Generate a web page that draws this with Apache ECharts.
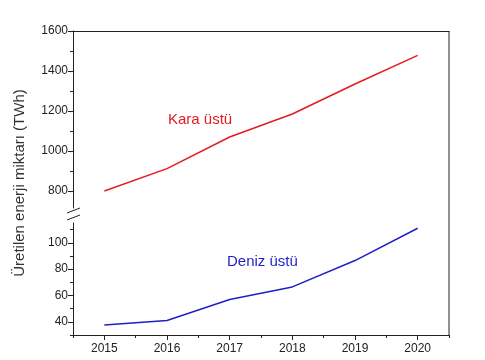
<!DOCTYPE html>
<html><head><meta charset="utf-8">
<script src="https://cdn.jsdelivr.net/npm/echarts@6/dist/echarts.min.js"></script>
<style>html,body{margin:0;padding:0;background:#fff}#c{width:485px;height:360px}</style>
</head><body><div id="c"></div>
<script>
const years = [2015, 2016, 2017, 2018, 2019, 2020];
const karaUstu = [800, 912, 1070, 1185, 1335, 1478];
const denizUstu = [37.5, 41, 57, 66.5, 86.5, 111];
const upperTicks = [800, 1000, 1200, 1400, 1600];
const upperMinor = [900, 1100, 1300, 1500];
const lowerTicks = [40, 60, 80, 100];
const lowerMinor = [30, 50, 70, 90, 110];
const yearMinor = [2014.5, 2015.5, 2016.5, 2017.5, 2018.5, 2019.5, 2020.5];

const L = 73, W = 376, T1 = 31, H1 = 177, T2 = 223, H2 = 112;
const font = 'Liberation Sans, Arial, sans-serif';
const axCol = '#222';
const plain = v => String(v);

const chart = echarts.init(document.getElementById('c'), null, {renderer: 'canvas'});
const hid = {show: false};
chart.setOption({
  animation: false,
  grid: [
    {left: L, top: T1, width: W, height: H1},
    {left: L, top: T2, width: W, height: H2}
  ],
  xAxis: [
    {gridIndex: 0, type: 'value', position: 'top', min: 2014.5, max: 2020.5,
      axisLine: {show: true, onZero: false, lineStyle: {color: axCol, width: 1}},
      axisTick: hid, axisLabel: hid, splitLine: hid},
    {gridIndex: 1, type: 'value', position: 'bottom', min: 2014.5, max: 2020.5,
      axisLine: {show: true, onZero: false, lineStyle: {color: axCol, width: 1}},
      axisTick: {show: true, inside: false, length: 5, customValues: years, lineStyle: {color: axCol}},
      axisLabel: {show: true, customValues: years, formatter: plain, fontSize: 12, fontFamily: font, color: '#222', margin: 8},
      splitLine: hid},
    {gridIndex: 1, type: 'value', position: 'bottom', min: 2014.5, max: 2020.5,
      axisLine: hid,
      axisTick: {show: true, inside: false, length: 3, customValues: yearMinor, lineStyle: {color: axCol}},
      axisLabel: hid, splitLine: hid}
  ],
  yAxis: [
    {gridIndex: 0, type: 'value', min: 715, max: 1600, position: 'left',
      axisLine: {show: true, onZero: false, lineStyle: {color: axCol, width: 1}},
      axisTick: {show: true, length: 5, customValues: upperTicks, lineStyle: {color: axCol}},
      axisLabel: {show: true, customValues: upperTicks, formatter: plain, fontSize: 12, fontFamily: font, color: '#222', margin: 5},
      splitLine: hid},
    {gridIndex: 0, type: 'value', min: 715, max: 1600, position: 'left',
      axisLine: hid,
      axisTick: {show: true, length: 3, customValues: upperMinor, lineStyle: {color: axCol}},
      axisLabel: hid, splitLine: hid},
    {gridIndex: 1, type: 'value', min: 30, max: 115, position: 'left',
      axisLine: {show: true, onZero: false, lineStyle: {color: axCol, width: 1}},
      axisTick: {show: true, length: 5, customValues: lowerTicks, lineStyle: {color: axCol}},
      axisLabel: {show: true, customValues: lowerTicks, formatter: plain, fontSize: 12, fontFamily: font, color: '#222', margin: 5},
      splitLine: hid},
    {gridIndex: 1, type: 'value', min: 30, max: 115, position: 'left',
      axisLine: hid,
      axisTick: {show: true, length: 3, customValues: lowerMinor, lineStyle: {color: axCol}},
      axisLabel: hid, splitLine: hid}
  ],
  series: [
    {type: 'line', xAxisIndex: 0, yAxisIndex: 0, data: years.map((y, i) => [y, karaUstu[i]]),
      showSymbol: false, lineStyle: {color: '#e31b23', width: 1.5}, silent: true},
    {type: 'line', xAxisIndex: 1, yAxisIndex: 2, data: years.map((y, i) => [y, denizUstu[i]]),
      showSymbol: false, lineStyle: {color: '#1f1fc8', width: 1.5}, silent: true}
  ],
  graphic: [
    {type: 'line', shape: {x1: L + W, y1: T1, x2: L + W, y2: T2 + H2}, style: {stroke: axCol, lineWidth: 1}},
    {type: 'line', shape: {x1: L - 6, y1: 213, x2: L + 7, y2: 208}, style: {stroke: axCol, lineWidth: 1}},
    {type: 'line', shape: {x1: L - 6, y1: 220, x2: L + 7, y2: 215}, style: {stroke: axCol, lineWidth: 1}},
    {type: 'text', x: 20, y: 183, rotation: Math.PI / 2,
      style: {text: 'Üretilen enerji miktarı (TWh)', fontSize: 15, fontFamily: font, fill: '#333',
        align: 'center', verticalAlign: 'middle'}},
    {type: 'text', x: 168, y: 120,
      style: {text: 'Kara üstü', fontSize: 15, fontFamily: font, fill: '#e31b23', align: 'left', verticalAlign: 'middle'}},
    {type: 'text', x: 227, y: 262,
      style: {text: 'Deniz üstü', fontSize: 15, fontFamily: font, fill: '#1f1fc8', align: 'left', verticalAlign: 'middle'}}
  ]
});
</script></body></html>
